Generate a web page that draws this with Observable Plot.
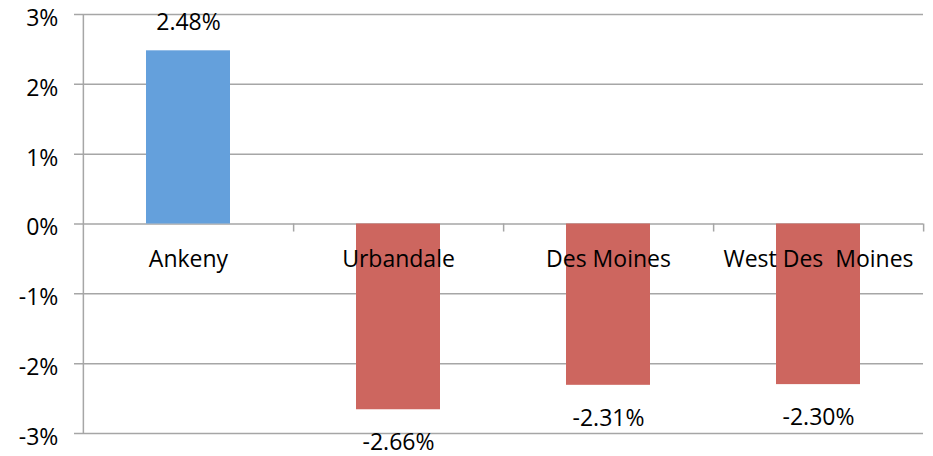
<!DOCTYPE html>
<html>
<head>
<meta charset="utf-8">
<script src="https://cdn.jsdelivr.net/npm/d3@7"></script>
<script src="https://cdn.jsdelivr.net/npm/@observablehq/plot@0.6"></script>
<style>
  html, body { margin: 0; padding: 0; background: #fff; }
  svg text { white-space: pre; }
</style>
</head>
<body>
<div id="chart"></div>
<script>
const categories = ["Ankeny", "Urbandale", "Des Moines", "West Des  Moines"];
const values = [2.48, -2.66, -2.31, -2.30];
const valueLabels = ["2.48%", "-2.66%", "-2.31%", "-2.30%"];
const yTicks = [-3, -2, -1, 0, 1, 2, 3];

const data = categories.map((c, i) => ({category: c, value: values[i], label: valueLabels[i]}));
const pos = data.filter(d => d.value >= 0);
const neg = data.filter(d => d.value < 0);

const W = 933, H = 456, mL = 82, mR = 10, mT = 14, mB = 23;
const step = (W - mL - mR) / categories.length;
const gridColor = "#a6a6a6";

const chart = Plot.plot({
  width: W,
  height: H,
  marginLeft: mL,
  marginRight: mR,
  marginTop: mT,
  marginBottom: mB,
  style: {fontFamily: "'Open Sans', sans-serif", fontSize: "23px", color: "#000", background: "#fff"},
  x: {domain: categories, paddingInner: 0.6, paddingOuter: 0.3, axis: null},
  y: {domain: [-3, 3], axis: null},
  marks: [
    Plot.ruleY(yTicks, {stroke: gridColor, strokeWidth: 1.5, insetLeft: -8}),
    Plot.ruleX([categories[0]], {x: d => d, dx: -step / 2, y1: -3, y2: 3, stroke: gridColor, strokeWidth: 1.5}),
    Plot.ruleX(categories, {x: d => d, dx: step / 2, y1: 0, y2: -0.115, stroke: gridColor, strokeWidth: 1.5}),
    Plot.text(yTicks, {x: () => categories[0], y: d => d, text: d => d + "%", textAnchor: "end", dx: -step / 2 - 25, dy: 4, fill: "#000"}),
    Plot.barY(data, {x: "category", y: "value", fill: d => d.value >= 0 ? "#64a0dc" : "#cd665f"}),
    Plot.text(data, {x: "category", y: () => 0, text: "category", dy: 36, fill: "#000"}),
    Plot.text(pos, {x: "category", y: "value", text: "label", dy: -28, fill: "#000"}),
    Plot.text(neg, {x: "category", y: "value", text: "label", dy: 33, fill: "#000"})
  ]
});
document.getElementById("chart").appendChild(chart);
</script>
</body>
</html>
